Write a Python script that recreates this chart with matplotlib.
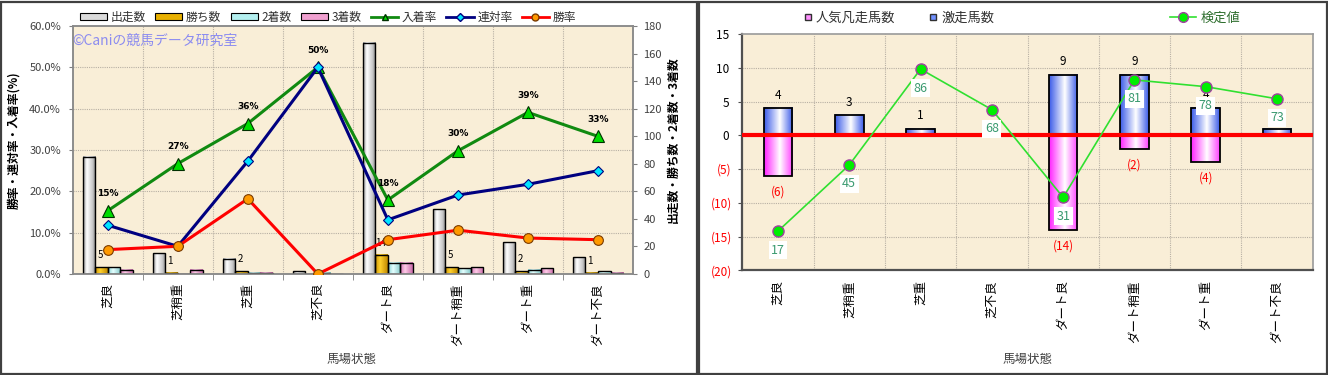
import numpy as np
import matplotlib
matplotlib.use('Agg')
import matplotlib.pyplot as plt
from matplotlib.colors import LinearSegmentedColormap
from matplotlib.lines import Line2D
from matplotlib.patches import Rectangle, Patch

plt.rcParams['font.family'] = ['Noto Sans CJK JP', 'DejaVu Sans']

# ---- data ----
categories = ['芝良', '芝稍重', '芝重', '芝不良', 'ダート良', 'ダート稍重', 'ダート重', 'ダート不良']

starts = [85, 15, 11, 2, 168, 47, 23, 12]
wins = [5, 1, 2, 0, 14, 5, 2, 1]
seconds = [5, 0, 1, 1, 8, 4, 3, 2]
thirds = [3, 3, 1, 0, 8, 5, 4, 1]

place_rate = [15.3, 26.7, 36.4, 50.0, 17.9, 29.8, 39.1, 33.3]
ren_rate = [11.8, 6.7, 27.3, 50.0, 13.1, 19.1, 21.7, 25.0]
win_rate = [5.9, 6.7, 18.2, 0.0, 8.3, 10.6, 8.7, 8.3]

gekiso = [4, 3, 1, 0, 9, 9, 4, 1]
bonso = [-6, 0, 0, 0, -14, -2, -4, 0]
test_pos = [-14.2, -4.4, 9.8, 3.8, -9.2, 8.2, 7.2, 5.4]
test_label = [17, 45, 86, 68, 31, 81, 78, 73]

r_ticks = [15, 10, 5, 0, -5, -10, -15, -20]
r_tick_labels = ['15 ', '10 ', '5 ', '0 ', '(5)', '(10)', '(15)', '(20)']

W, H = 1328, 375
fig = plt.figure(figsize=(W / 100, H / 100), dpi=100)
fig.patch.set_facecolor('white')


def px_rect(x0, y0, x1, y1):
    return [x0 / W, 1 - y1 / H, (x1 - x0) / W, (y1 - y0) / H]


def px(v):
    # pixels -> points
    return v * 0.72


def gradient_fill(ax, bars, stops, z):
    cmap = LinearSegmentedColormap.from_list('g', stops)
    grad = np.linspace(0, 1, 128).reshape(1, -1)
    for b in bars:
        h = b.get_height()
        if h == 0:
            continue
        x0, w, y0 = b.get_x(), b.get_width(), b.get_y()
        ax.imshow(grad, extent=[x0, x0 + w, y0, y0 + h], aspect='auto',
                  cmap=cmap, zorder=z, interpolation='bilinear')


# panel frames
fig.patches.append(Rectangle((1 / W, 1 / H), 696 / W, 372.5 / H, transform=fig.transFigure,
                             fill=False, edgecolor='#404040', lw=1.6))
fig.patches.append(Rectangle((699 / W, 1 / H), 627.5 / W, 372.5 / H, transform=fig.transFigure,
                             fill=False, edgecolor='#404040', lw=1.6))

x = np.arange(len(categories))
bg = '#f9eed7'
grid_c = '#b8b0a4'
grid_ls = (0, (1, 1))

# ========== left chart ==========
ax_cnt = fig.add_axes(px_rect(72.7, 26, 633, 274))
ax_rate = ax_cnt.twinx()
ax_cnt.set_facecolor(bg)

for v in range(30, 180, 30):
    ax_cnt.axhline(v, color=grid_c, lw=0.8, ls=grid_ls, zorder=1)
for v in np.arange(0.5, 7.5, 1):
    ax_cnt.axvline(v, color=grid_c, lw=0.8, ls=grid_ls, zorder=1)

bw = 0.18
series = [
    (starts, -1.5, [(0, '#8c8c8c'), (0.3, '#ffffff'), (0.75, '#c8c8c8'), (1, '#7a7a7a')]),
    (wins, -0.5, [(0, '#c89000'), (0.4, '#ffd22e'), (1, '#c08800')]),
    (seconds, 0.5, [(0, '#86d4d4'), (0.4, '#e6ffff'), (1, '#80c8c8')]),
    (thirds, 1.5, [(0, '#d070b0'), (0.4, '#ffcce8'), (1, '#c868a8')]),
]
for vals, off, stops in series:
    bars = ax_cnt.bar(x + off * bw, vals, bw, facecolor='none', edgecolor='black', lw=1, zorder=3)
    gradient_fill(ax_cnt, bars, stops, 2.5)

for i, w in enumerate(wins):
    if w > 0:
        ax_cnt.annotate(str(w), (i - 0.5 * bw, w), xytext=(-1, px(12)), textcoords='offset points',
                        ha='center', va='center', fontsize=7, zorder=4)

ax_rate.plot(x, place_rate, color='#108a10', lw=2.2, marker='^', ms=8.5,
             mfc='#00dd00', mec='#003000', mew=0.8, zorder=3)
ax_rate.plot(x, ren_rate, color='#000080', lw=2.2, marker='D', ms=5.5,
             mfc='#00e4ff', mec='#000080', mew=0.8, zorder=4)
ax_rate.plot(x, win_rate, color='#ff0000', lw=2.2, marker='o', ms=7,
             mfc='#ff9a00', mec='#7a3a00', mew=0.8, zorder=5)

for i, v in enumerate(place_rate):
    ax_rate.annotate(f'{v:.0f}%', (i, v), xytext=(0, px(17)), textcoords='offset points',
                     ha='center', va='center', fontsize=6.5, fontweight='bold',
                     family='DejaVu Sans', zorder=6)

ax_rate.text(0.0, 0.94, '©Caniの競馬データ研究室', transform=ax_rate.transAxes,
             fontsize=10, color='#8c8cf0', ha='left', va='center', zorder=6)

ax_cnt.set_xlim(-0.5, 7.5)
ax_cnt.set_ylim(0, 180)
ax_rate.set_ylim(0, 60)
ax_cnt.set_yticks(range(0, 181, 20))
ax_rate.set_yticks(range(0, 61, 10))
ax_rate.set_yticklabels([f'{v:.1f}%' for v in range(0, 61, 10)])

ax_cnt.yaxis.tick_right()
ax_rate.yaxis.tick_left()

ax_cnt.set_xticks(x)
ax_cnt.set_xticklabels(categories, rotation=90, fontsize=9)
ax_cnt.set_xticks(np.arange(0.5, 7.5, 1), minor=True)
ax_cnt.tick_params(axis='x', which='major', length=0, pad=px(9))
ax_cnt.tick_params(axis='x', which='minor', length=4, color='#808080')
ax_cnt.tick_params(axis='y', length=3, pad=4.5, labelsize=8, labelcolor='#404040', color='#808080')
ax_rate.tick_params(axis='y', length=3, pad=5.5, labelsize=8, labelcolor='#404040', color='#808080')
for ax in (ax_cnt, ax_rate):
    for s in ax.spines.values():
        s.set_color('#8a8a8a')
        s.set_linewidth(1.1)

fig.text(14 / W, 1 - 140 / H, '勝率・連対率・入着率(%)', rotation=90, ha='center', va='center',
         fontsize=8.5, fontweight='bold')
fig.text(673 / W, 1 - 140 / H, '出走数・勝ち数・2着数・3着数', rotation=90, ha='center', va='center',
         fontsize=8.5, fontweight='bold')
fig.text(352 / W, 1 - 359 / H, '馬場状態', ha='center', va='center', fontsize=9, color='#404040')

handles = [
    Patch(facecolor='#dadada', edgecolor='black', lw=0.8),
    Patch(facecolor='#e8b000', edgecolor='black', lw=0.8),
    Patch(facecolor='#b4f0f0', edgecolor='black', lw=0.8),
    Patch(facecolor='#f0a0d0', edgecolor='black', lw=0.8),
    Line2D([], [], color='#108a10', lw=2, marker='^', ms=5, mfc='#00dd00', mec='#003000'),
    Line2D([], [], color='#000080', lw=2, marker='D', ms=4, mfc='#00e4ff', mec='#000080'),
    Line2D([], [], color='#ff0000', lw=2, marker='o', ms=5, mfc='#ff9a00', mec='#7a3a00'),
]
fig.legend(handles, ['出走数', '勝ち数', '2着数', '3着数', '入着率', '連対率', '勝率'],
           loc='center', bbox_to_anchor=(328 / W, 1 - 17.5 / H), ncol=7, frameon=False,
           fontsize=8.5, handlelength=2.3, handleheight=0.55, columnspacing=0.8,
           handletextpad=0.3, labelcolor='#303030')

# ========== right chart ==========
ax_r = fig.add_axes(px_rect(742.3, 34, 1312.7, 270.3))
ax_r.set_facecolor(bg)
for v in range(-15, 15, 5):
    ax_r.axhline(v, color=grid_c, lw=0.8, ls=grid_ls, zorder=1)
for v in np.arange(0.5, 7.5, 1):
    ax_r.axvline(v, color=grid_c, lw=0.8, ls=grid_ls, zorder=1)

rb = 0.4
bars_b = ax_r.bar(x, gekiso, rb, facecolor='none', edgecolor='black', lw=1.3, zorder=3)
gradient_fill(ax_r, bars_b, [(0, '#3a5ae8'), (0.55, '#ffffff'), (1, '#3a5ae8')], 2.5)
bars_p = ax_r.bar(x, bonso, rb, facecolor='none', edgecolor='black', lw=1.3, zorder=3)
gradient_fill(ax_r, bars_p, [(0, '#ff20ff'), (0.55, '#ffffff'), (1, '#ff40ff')], 2.5)

ax_r.axhline(0, color='#ff0000', lw=3, zorder=4)

for i, v in enumerate(gekiso):
    if v > 0:
        ax_r.annotate(str(v), (i, v), xytext=(0, px(13)), textcoords='offset points',
                      ha='center', va='center', fontsize=8.5, zorder=4)
for i, v in enumerate(bonso):
    if v < 0:
        ax_r.annotate(f'({-v})', (i, v), xytext=(0, -px(16)), textcoords='offset points',
                      ha='center', va='center', fontsize=8.5, color='#ff0000', zorder=4)

ax_r.plot(x, test_pos, color='#30e030', lw=1.2, marker='o', ms=8,
          mfc='#00ee00', mec='#a040a0', mew=1, zorder=5)
for i, (p, lab) in enumerate(zip(test_pos, test_label)):
    ax_r.annotate(str(lab), (i, p), xytext=(0, -px(19)), textcoords='offset points',
                  ha='center', va='center', fontsize=9, color='#3a9a70', zorder=6,
                  bbox=dict(boxstyle='square,pad=0.2', fc='white', ec='none'))

ax_r.set_xlim(-0.5, 7.5)
ax_r.set_ylim(-20, 15)
ax_r.set_yticks(r_ticks)
ax_r.set_yticklabels(r_tick_labels)
for t, v in zip(ax_r.get_yticklabels(), r_ticks):
    t.set_color('#ff0000' if v < 0 else 'black')
ax_r.set_xticks(x)
ax_r.set_xticklabels(categories, rotation=90, fontsize=9)
ax_r.tick_params(axis='x', length=0, pad=px(10))
ax_r.tick_params(axis='y', length=3, pad=4.5, labelsize=8.5, color='#505050')
for k, s in ax_r.spines.items():
    if k in ('left', 'bottom'):
        s.set_color('#505050')
        s.set_linewidth(1.6)
    else:
        s.set_color('#9a9a9a')
        s.set_linewidth(1.2)

fig.text(1028 / W, 1 - 359 / H, '馬場状態', ha='center', va='center', fontsize=9, color='#404040')

h_bar = [
    Line2D([], [], ls='none', marker='s', ms=5, mfc='#ff90ff', mec='#303030', mew=1),
    Line2D([], [], ls='none', marker='s', ms=5, mfc='#7090ff', mec='#303030', mew=1),
]
fig.legend(h_bar, ['人気凡走馬数', '激走馬数'], loc='center', bbox_to_anchor=(899 / W, 1 - 18 / H),
           ncol=2, frameon=False, fontsize=9.5, handlelength=0.6, handletextpad=0.3,
           columnspacing=2.6, labelcolor='#303030')
h_test = [Line2D([], [], color='#30e030', lw=1.2, marker='o', ms=7, mfc='#00ee00', mec='#a040a0')]
fig.legend(h_test, ['検定値'], loc='center', bbox_to_anchor=(1205 / W, 1 - 18 / H),
           frameon=False, fontsize=9.5, handlelength=2.0, handletextpad=0.3, labelcolor='#2e6e2e')

fig.savefig('out.png', dpi=100)
